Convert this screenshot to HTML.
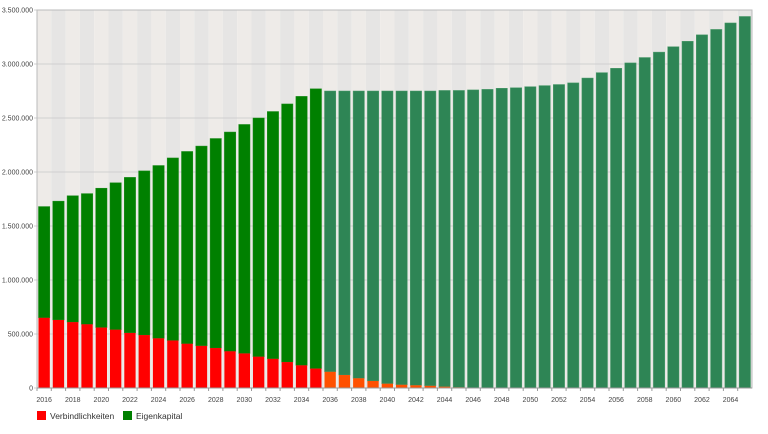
<!DOCTYPE html>
<html><head><meta charset="utf-8"><style>
body{margin:0;background:#fff;width:768px;height:429px;overflow:hidden;font-family:"Liberation Sans",sans-serif}
</style></head><body>
<svg id="chart" width="768" height="429" xmlns="http://www.w3.org/2000/svg"></svg>
<script>
const years=[];for(let y=2016;y<=2065;y++)years.push(y);
const totals=[1.68,1.73,1.78,1.80,1.85,1.90,1.95,2.01,2.06,2.13,2.19,2.24,2.31,2.37,2.44,2.50,2.56,2.63,2.70,2.77,
2.75,2.75,2.75,2.75,2.75,2.75,2.75,2.75,2.755,2.755,2.76,2.765,2.775,2.78,2.79,2.80,2.81,2.825,
2.87,2.92,2.96,3.01,3.06,3.11,3.16,3.21,3.27,3.32,3.38,3.44];
const liabilities=[0.65,0.63,0.61,0.59,0.56,0.54,0.51,0.49,0.46,0.44,0.41,0.39,0.37,0.34,0.32,0.29,0.27,0.24,0.21,0.18,
0.15,0.12,0.09,0.065,0.04,0.03,0.025,0.02,0.012,0.006,0.002,0,0,0,0,0,0,0,0,0,0,0,0,0,0,0,0,0,0,0];
const yTicks=[0,0.5,1,1.5,2,2.5,3,3.5];
const yTickLabels=["0","500.000","1.000.000","1.500.000","2.000.000","2.500.000","3.000.000","3.500.000"];
const forecastStart=2036;
const svg=document.getElementById('chart');const NS='http://www.w3.org/2000/svg';
const L=37,R=752,T=10,B=388;
const bw=(R-L)/years.length;
const xs=i=>L+i*bw;const ys=v=>B-(v/3.5)*(B-T);
function mk(tag,a,p){const e=document.createElementNS(NS,tag);for(const k in a)e.setAttribute(k,a[k]);(p||svg).appendChild(e);return e;}
years.forEach((y,i)=>{const r=mk('rect',{x:xs(i),y:T,width:bw,height:B-T,fill:i%2?'#e6e5e4':'#eeebe8'});

});
yTicks.forEach((t,i)=>{const l=mk('line',{x1:L-3,x2:R,y1:ys(t),y2:ys(t),stroke:'#d0d0d0','stroke-width':1});


const tx=mk('text',{x:L-4,y:ys(t)+2.5,'text-anchor':'end','font-size':'7',fill:'#444'});tx.textContent=yTickLabels[i];

});
years.forEach((y,i)=>{const f=y>=forecastStart;const x=xs(i)+1.5,w=bw-3;
const g=mk('rect',{x:x,y:ys(totals[i]),width:w,height:ys(liabilities[i])-ys(totals[i]),fill:f?'#2e8555':'#008000',stroke:f?'#4a9a6a':'#1a8a1a','stroke-width':0.5});


if(liabilities[i]>0){const r=mk('rect',{x:x,y:ys(liabilities[i]),width:w,height:B-ys(liabilities[i]),fill:f?'#ff5000':'#ff0000'});

}
const tk=mk('line',{x1:xs(i),x2:xs(i),y1:B,y2:B+3,stroke:'#999'});


if(i%2===0){const t=mk('text',{x:xs(i)+bw/2,y:B+14,'text-anchor':'middle','font-size':'7',fill:'#444'});t.textContent=y;

}});
const ax=mk('line',{x1:L,x2:L,y1:T,y2:B,stroke:'#bbb'});


const fr=mk('rect',{x:L,y:T,width:R-L,height:B-T,fill:'none',stroke:'#bbb'});


const b=mk('line',{x1:L,x2:R,y1:B,y2:B,stroke:'#999'});


[['#ff0000','Verbindlichkeiten',37,'legend-liabilities'],['#008000','Eigenkapital',123,'legend-equity']].forEach(([c,t,x,n])=>{
const g=mk('g',{});

mk('rect',{x:x,y:411,width:9,height:9,fill:c},g);
const tx=mk('text',{x:x+13,y:419,'font-size':'8.5',fill:'#333'},g);tx.textContent=t;});
</script>
</body></html>
